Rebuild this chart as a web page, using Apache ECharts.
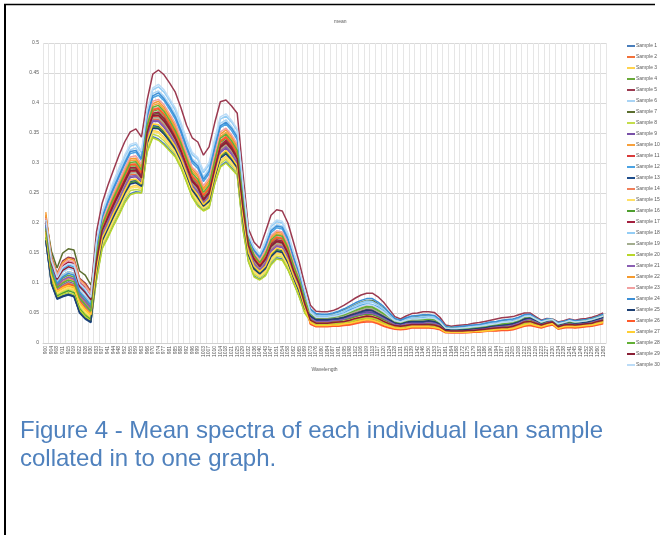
<!DOCTYPE html>
<html>
<head>
<meta charset="utf-8">
<script src="https://cdn.jsdelivr.net/npm/echarts/dist/echarts.min.js"></script>
<style>
  html, body { margin: 0; padding: 0; background: #fff; }
  #chart { width: 661px; height: 535px; }
</style>
</head>
<body>
<div id="chart"></div>
<script>
// Band centres (nm) along the category axis
const wavelengths = [
  900, 904, 908, 911, 915, 919, 922, 926, 930, 933, 937, 941, 944, 948, 952, 955, 959, 963, 966, 970,
  974, 977, 981, 985, 988, 992, 996, 999, 1003, 1007, 1010, 1014, 1018, 1021, 1025, 1029, 1032, 1036, 1040, 1043,
  1047, 1051, 1054, 1058, 1062, 1065, 1069, 1073, 1076, 1080, 1084, 1087, 1091, 1095, 1098, 1102, 1106, 1109, 1113, 1117,
  1120, 1124, 1128, 1131, 1135, 1139, 1142, 1146, 1150, 1153, 1157, 1161, 1164, 1168, 1172, 1175, 1179, 1183, 1186, 1190,
  1194, 1197, 1201, 1205, 1208, 1212, 1216, 1219, 1223, 1227, 1230, 1234, 1238, 1241, 1245, 1249, 1252, 1256, 1260, 1263
];

// Mean spectrum of each sample, reflectance in thousandths
const sample1 = [172,100,75,79,82,79,52,42,36,107,159,177,197,215,235,249,252,251,320,344,340,332,322,312,293,269,244,230,221,226,266,295,302,292,281,192,136,112,106,113,132,142,140,123,101,78,51,40,35,35,35,36,36,38,40,43,46,48,47,43,38,34,30,29,31,32,32,32,33,32,28,21,20,20,20,21,21,22,23,25,26,27,27,29,32,36,38,35,31,34,36,28,31,32,31,32,33,34,37,40];
const sample2 = [184,111,85,91,95,92,66,55,46,131,182,203,223,242,262,281,281,271,346,373,373,364,350,335,314,290,265,253,235,245,286,321,328,318,302,220,157,134,124,134,156,164,162,144,116,94,63,32,28,28,28,29,29,30,31,34,36,37,37,34,29,26,24,23,24,26,26,26,26,25,23,18,17,17,17,18,18,19,20,21,21,22,22,23,26,29,30,28,26,29,31,24,26,27,26,27,28,29,31,33];
const sample3 = [180,107,81,87,91,88,61,50,42,115,167,186,206,225,245,260,263,258,329,354,352,343,332,320,301,277,252,238,226,233,273,304,311,301,289,202,144,120,112,121,140,150,148,131,107,84,55,36,31,31,31,32,33,34,36,38,41,42,42,38,34,30,27,26,27,29,29,29,29,28,26,19,19,19,19,19,20,20,21,23,23,24,25,26,29,33,34,31,28,32,33,26,28,30,28,29,30,32,34,36];
const sample4 = [196,124,97,108,113,110,82,71,60,142,192,215,236,255,275,295,295,281,358,386,389,379,364,347,326,300,276,266,244,256,297,334,341,330,314,233,166,143,131,144,167,175,173,154,124,102,69,48,41,41,41,42,44,46,50,53,57,59,58,54,48,42,35,34,36,38,38,38,39,38,33,24,23,23,24,25,25,26,27,29,30,32,33,34,37,42,44,39,34,38,38,31,34,36,34,35,36,38,41,44];
const sample5 = [211,144,116,137,143,141,108,100,86,185,233,262,288,313,335,352,357,343,405,448,455,447,433,418,392,363,342,335,313,327,367,402,405,395,383,285,190,168,158,185,213,222,220,200,168,135,97,63,53,52,52,54,58,63,69,75,80,83,83,77,68,56,44,40,45,49,50,52,52,51,43,30,28,29,30,31,33,34,36,38,40,42,43,44,47,50,50,44,38,41,40,35,37,40,38,40,41,43,46,50];
const sample6 = [201,131,104,118,124,121,92,82,69,163,212,237,261,283,304,322,325,311,380,416,420,411,397,381,357,330,307,299,277,290,330,366,372,361,347,258,178,155,144,164,189,197,195,176,145,118,82,54,46,45,45,47,49,53,57,62,66,68,68,63,56,47,39,36,40,42,43,44,44,43,37,27,25,26,26,27,28,29,31,33,34,36,37,38,41,45,46,41,36,39,39,33,35,38,36,37,38,40,43,47];
const sample7 = [207,153,125,150,157,155,120,113,97,138,188,210,231,250,270,290,290,277,353,381,383,373,358,341,320,296,271,260,239,251,292,328,336,325,308,228,163,140,129,140,163,170,168,150,121,99,66,55,47,46,46,48,51,55,59,64,68,71,71,65,58,49,40,37,41,43,44,45,46,45,38,27,26,26,27,28,29,30,32,34,35,37,38,39,42,46,47,42,36,39,39,33,35,38,36,38,39,41,44,47];
const sample8 = [178,106,80,85,89,86,59,48,41,110,162,181,201,219,239,254,256,254,324,348,345,337,326,315,296,272,247,233,223,229,269,299,306,296,284,196,139,115,109,116,135,145,143,126,103,80,53,37,32,32,32,33,34,35,37,40,42,44,43,40,35,31,28,27,28,30,30,30,30,29,26,20,19,19,19,20,20,21,22,23,24,25,25,27,30,34,35,32,29,32,34,26,29,30,29,30,31,32,35,37];
const sample9 = [190,117,90,97,102,99,73,61,51,128,178,199,220,238,258,276,277,268,342,369,369,359,346,331,311,287,262,250,233,243,283,317,325,314,299,216,154,131,121,131,153,161,159,141,114,92,61,44,38,38,38,39,40,42,45,48,51,53,52,48,43,38,33,32,34,35,35,35,36,35,31,23,22,22,22,23,23,24,25,27,28,29,30,32,35,40,42,38,33,37,38,30,33,35,33,34,35,37,40,43];
const sample10 = [218,128,101,113,119,116,87,77,65,149,199,222,244,264,285,304,305,291,365,396,399,389,375,358,336,310,286,277,255,267,308,344,351,341,325,241,170,147,136,151,175,182,180,162,131,107,73,41,36,36,36,37,38,39,42,45,48,49,49,45,40,35,31,30,32,33,33,33,34,33,29,22,21,21,21,22,22,23,24,26,26,27,28,30,33,38,39,36,31,35,36,29,31,33,31,32,33,35,38,41];
const sample11 = [186,113,87,93,98,95,68,57,48,135,185,206,227,246,266,285,286,274,349,377,378,368,354,338,317,293,268,257,237,248,289,324,332,321,305,224,160,137,126,137,160,167,165,147,119,97,64,35,30,30,30,31,32,33,34,37,39,40,40,37,32,29,26,25,26,28,28,28,28,27,25,19,18,18,18,19,19,20,21,22,22,23,24,25,28,32,33,30,27,31,32,25,27,29,27,28,29,31,33,35];
const sample12 = [204,135,108,124,130,127,97,87,74,158,207,232,255,276,297,316,318,304,375,409,413,404,389,373,350,323,300,291,269,282,323,359,365,354,339,252,175,152,141,159,184,192,190,171,140,114,79,52,44,44,44,45,47,50,55,59,63,65,64,60,53,45,37,35,38,41,41,42,42,41,36,26,24,25,25,26,27,28,29,31,33,34,35,37,40,44,45,40,35,39,39,32,35,37,35,36,37,39,42,46];
const sample13 = [170,98,73,77,80,77,50,40,34,122,173,193,214,232,252,269,271,264,336,362,361,352,340,326,307,282,257,245,230,238,279,311,319,308,295,210,150,126,117,127,147,156,154,137,111,88,58,43,37,37,37,38,39,41,43,46,49,51,50,46,41,37,32,31,33,34,34,34,35,34,30,22,21,21,21,22,22,23,24,26,27,28,29,31,34,39,41,37,32,36,37,29,32,34,32,33,34,36,39,42];
const sample14 = [193,121,94,102,108,105,78,66,56,145,194,217,239,258,278,298,299,285,360,390,392,382,367,351,329,304,279,269,247,260,300,337,345,334,317,236,168,145,133,146,170,177,175,157,127,104,70,37,32,32,32,33,33,35,37,39,42,43,43,39,35,31,27,26,28,29,29,29,30,29,26,20,19,19,19,20,20,21,22,23,24,25,25,26,29,33,35,32,29,32,34,26,29,30,29,30,31,32,34,37];
const sample15 = [182,109,83,89,93,90,64,53,44,114,165,184,204,223,243,258,260,257,327,352,350,341,330,318,299,275,250,236,225,232,272,302,309,299,287,200,142,118,111,119,139,148,146,129,105,83,54,39,34,34,34,35,35,37,39,42,44,46,45,42,37,33,29,28,30,31,31,31,32,31,27,21,20,20,20,21,21,22,23,24,25,26,26,28,31,35,37,34,30,33,35,27,30,31,30,31,32,33,36,39];
const sample16 = [176,104,78,83,87,84,57,46,39,121,172,192,212,231,251,267,269,263,335,360,359,350,338,325,305,281,256,243,229,237,278,310,317,307,293,208,148,124,116,125,146,154,152,135,110,87,58,41,35,35,35,36,37,39,41,44,47,48,48,44,39,35,30,29,31,32,32,32,33,32,29,21,21,21,21,21,22,22,23,25,26,27,28,29,32,37,39,35,31,35,36,28,31,33,31,32,33,35,37,40];
const sample17 = [207,139,111,129,135,133,101,92,79,140,190,212,233,252,272,292,292,278,355,383,385,375,360,343,322,297,272,262,240,252,293,330,338,327,310,230,165,142,130,142,165,172,170,152,122,100,67,46,40,39,39,41,42,44,47,51,54,56,55,51,46,40,34,33,35,36,37,37,38,37,32,24,23,23,23,24,24,25,26,28,29,30,31,33,36,41,43,39,34,37,38,31,33,36,34,35,36,38,41,44];
const sample18 = [198,128,101,113,119,116,87,77,65,167,216,242,266,289,310,328,331,317,385,422,427,418,404,388,364,337,314,306,284,297,337,373,378,368,354,263,180,158,147,168,194,202,200,181,150,121,85,54,46,46,46,47,50,54,58,63,67,70,69,64,57,48,39,36,40,43,43,44,45,44,38,27,25,26,26,27,29,30,31,33,35,36,37,39,42,46,46,41,36,39,39,33,35,38,36,37,38,40,43,47];
const sample19 = [188,115,88,95,100,97,71,59,49,133,183,205,225,244,264,283,284,272,348,375,376,366,352,336,316,291,266,255,236,247,287,323,330,320,304,222,159,136,125,136,158,166,164,146,118,95,64,47,40,40,40,41,43,45,49,52,55,58,57,52,47,41,35,33,36,37,37,38,38,37,33,24,23,23,23,24,25,26,27,29,30,31,32,34,37,42,43,39,34,38,38,31,34,36,34,35,36,38,41,44];
const sample20 = [174,102,76,81,84,81,55,44,37,105,157,175,195,213,233,247,250,250,318,342,338,330,320,310,292,268,243,228,220,225,265,293,300,290,280,190,135,110,105,112,130,140,138,122,100,77,50,36,31,31,31,32,32,34,35,38,40,41,41,38,33,30,26,25,27,28,28,28,29,28,25,19,19,19,19,19,20,20,21,22,23,24,24,25,28,32,34,31,28,31,33,25,28,29,28,29,30,31,33,36];
const sample21 = [194,122,95,105,110,107,80,69,58,129,180,201,222,240,260,278,279,270,344,371,371,361,348,333,313,288,263,252,234,244,285,319,327,316,301,218,156,132,122,133,154,162,160,143,115,93,62,42,36,36,36,37,38,40,43,46,48,50,49,46,41,36,31,30,32,33,33,33,34,33,30,22,21,21,21,22,22,23,24,26,27,28,29,30,33,38,40,36,32,36,37,29,32,34,32,33,34,36,38,41];
const sample22 = [214,142,115,134,141,138,106,97,83,151,201,225,247,267,288,307,308,294,368,399,403,393,378,362,340,314,290,280,258,271,312,348,355,344,328,244,171,149,137,153,177,185,183,164,134,109,75,38,33,33,33,34,35,36,38,41,43,45,44,41,36,32,28,27,29,30,30,30,31,30,27,20,20,20,20,20,21,21,22,24,24,25,26,27,30,35,36,33,29,33,34,27,29,31,29,30,31,33,35,38];
const sample23 = [208,140,113,131,138,135,104,95,81,154,203,227,250,270,291,310,312,298,370,403,406,397,382,366,343,317,293,284,262,275,315,352,358,347,332,247,173,150,138,155,179,187,185,166,136,111,76,50,43,42,42,44,45,48,52,56,60,62,61,57,51,43,36,34,37,39,40,40,41,40,35,25,24,24,24,25,26,27,28,30,32,33,34,36,39,43,44,40,35,38,39,32,34,37,35,36,37,39,42,45];
const sample24 = [197,126,99,110,116,113,85,74,63,160,209,235,258,279,300,319,321,307,378,412,417,407,393,377,354,327,304,295,273,286,326,362,368,358,343,255,176,154,143,161,187,195,193,174,143,116,81,57,49,48,48,50,53,57,62,67,71,74,74,68,61,51,41,38,42,45,46,47,47,46,39,28,26,27,28,29,30,31,33,35,36,38,39,40,43,47,48,42,37,40,39,34,36,39,37,38,39,41,44,48];
const sample25 = [171,99,74,78,81,78,51,41,35,119,170,190,210,229,249,265,267,261,333,358,357,348,336,323,304,280,255,242,228,236,276,308,315,305,292,206,147,123,115,124,144,153,151,134,109,86,57,45,39,39,39,40,41,43,46,49,52,55,54,49,44,39,34,32,35,36,36,36,37,36,32,23,22,22,22,23,24,25,26,28,29,30,31,33,36,40,42,38,33,37,38,30,33,35,33,34,35,37,40,43];
const sample26 = [187,114,87,94,99,96,70,58,48,144,193,216,237,257,277,297,297,283,359,388,391,381,366,349,328,302,278,268,246,258,299,336,343,332,316,234,167,144,132,145,169,176,174,156,126,103,69,31,27,27,27,28,28,29,30,32,34,35,35,32,28,25,23,22,23,25,25,25,25,24,22,17,17,17,17,17,18,18,19,20,20,21,21,22,25,28,29,27,25,28,30,23,25,26,25,26,27,28,30,32];
const sample27 = [185,112,86,92,96,93,67,56,47,124,175,195,216,234,254,272,273,265,338,365,364,355,342,328,308,284,259,247,231,240,280,313,321,310,296,212,151,128,119,128,149,158,156,138,112,90,59,34,29,29,29,30,30,32,33,35,37,39,38,35,31,28,25,24,25,27,27,27,27,26,24,18,18,18,18,18,19,19,20,21,22,23,23,24,27,30,32,29,27,30,32,24,27,28,27,28,29,30,32,34];
const sample28 = [191,119,92,100,105,102,75,64,53,147,196,220,241,261,281,301,302,288,363,393,396,386,371,354,333,307,283,273,251,263,304,341,348,337,321,238,169,146,134,148,172,180,178,159,129,105,72,49,42,42,42,43,45,47,51,55,58,61,60,55,49,43,36,34,37,39,39,39,40,39,34,25,24,24,24,25,26,27,28,30,31,32,33,35,38,43,44,40,34,38,39,31,34,36,34,36,37,39,42,45];
const sample29 = [203,133,106,121,127,124,94,84,72,136,187,208,229,248,268,287,288,275,351,379,380,370,356,340,319,294,269,259,238,249,290,326,334,323,307,226,162,139,127,139,161,169,167,149,120,98,65,38,33,33,33,34,35,36,38,41,43,45,44,41,36,32,29,28,29,31,31,31,31,30,27,21,20,20,20,21,21,22,23,24,25,26,26,28,31,35,36,33,30,33,35,27,30,31,30,31,32,33,36,38];
const sample30 = [205,137,109,126,132,130,99,90,76,169,218,245,269,292,313,331,334,320,388,425,431,422,407,392,368,340,318,309,287,301,341,377,382,371,357,266,181,159,148,170,196,205,203,183,152,123,87,51,43,43,43,44,46,49,53,57,61,64,63,58,52,44,37,35,38,40,40,41,42,41,35,25,24,24,25,26,27,28,29,31,32,34,35,36,39,44,45,40,35,38,39,32,34,37,35,36,37,39,42,45];

const samples = [
  sample1, sample2, sample3, sample4, sample5, sample6, sample7, sample8, sample9, sample10,
  sample11, sample12, sample13, sample14, sample15, sample16, sample17, sample18, sample19, sample20,
  sample21, sample22, sample23, sample24, sample25, sample26, sample27, sample28, sample29, sample30
];

const sampleColors = [
  '#4a7ebb', '#f2713a', '#ffd34e', '#6aaa3a', '#9b3a50', '#a9d4f5', '#5b6e2f', '#c4dd4c', '#7951a8', '#f7a03c',
  '#d93a3a', '#4ba3e3', '#1f4e8c', '#f07f5a', '#ffe066', '#4f9f2f', '#a3203f', '#93cdf5', '#a3ad8f', '#b8d62a',
  '#8a5fb3', '#f59a2e', '#f2a0a0', '#3c8fd6', '#1d3f73', '#ff5a2a', '#ffcf33', '#62b035', '#8a1f35', '#bcdcf7'
];

const tickColor = '#595959';
const captionFont = '24px "Liberation Sans", Arial, sans-serif';

const series = samples.map((values, k) => ({
  name: 'Sample ' + (k + 1),
  type: 'line',
  data: values.map(v => v / 1000),
  symbol: 'none',
  lineStyle: { width: 1.5 },
  emphasis: { disabled: true }
}));

const chart = echarts.init(document.getElementById('chart'), null, { renderer: 'canvas' });
chart.setOption({
  animation: false,
  color: sampleColors,
  title: {
    text: 'mean',
    left: 329,
    top: 14,
    textStyle: { fontSize: 5, fontWeight: 'normal', color: tickColor, fontFamily: 'Liberation Sans' }
  },
  legend: {
    orient: 'vertical',
    left: 622,
    top: 38,
    icon: 'rect',
    itemWidth: 8,
    itemHeight: 2,
    itemGap: 5,
    textStyle: { fontSize: 5, lineHeight: 6, color: tickColor, fontFamily: 'Liberation Sans', padding: [0, 0, 0, -4] }
  },
  grid: { left: 43, right: 55, top: 43, bottom: 192, containLabel: false },
  xAxis: {
    type: 'category',
    data: wavelengths,
    boundaryGap: true,
    name: 'Wavelength',
    nameLocation: 'middle',
    nameGap: 24,
    nameTextStyle: { fontSize: 5, color: tickColor, fontFamily: 'Liberation Sans' },
    axisLine: { lineStyle: { color: '#d0d0d0' } },
    axisTick: { show: false },
    axisLabel: { interval: 0, rotate: 90, fontSize: 5, color: tickColor, margin: 3, fontFamily: 'Liberation Sans' },
    splitLine: { show: true, interval: 0, lineStyle: { color: '#e6e6e6', width: 1 } }
  },
  yAxis: {
    type: 'value',
    min: 0,
    max: 0.5,
    interval: 0.05,
    axisLine: { show: false },
    axisTick: { show: false },
    axisLabel: { fontSize: 5, color: tickColor, margin: 4, fontFamily: 'Liberation Sans' },
    splitLine: { lineStyle: { color: '#d9d9d9', width: 1 } }
  },
  series: series,
  graphic: [
    { type: 'line', shape: { x1: 4, y1: 4.5, x2: 655, y2: 4.5 }, style: { stroke: '#000', lineWidth: 1.5 } },
    { type: 'line', shape: { x1: 5, y1: 4, x2: 5, y2: 535 }, style: { stroke: '#000', lineWidth: 2 } },
    {
      type: 'text', left: 20, top: 419,
      style: { text: 'Figure 4 - Mean spectra of each individual lean sample', font: captionFont, fill: '#4f81bd' }
    },
    {
      type: 'text', left: 20, top: 447,
      style: { text: 'collated in to one graph.', font: captionFont, fill: '#4f81bd' }
    }
  ]
});
</script>
</body>
</html>
